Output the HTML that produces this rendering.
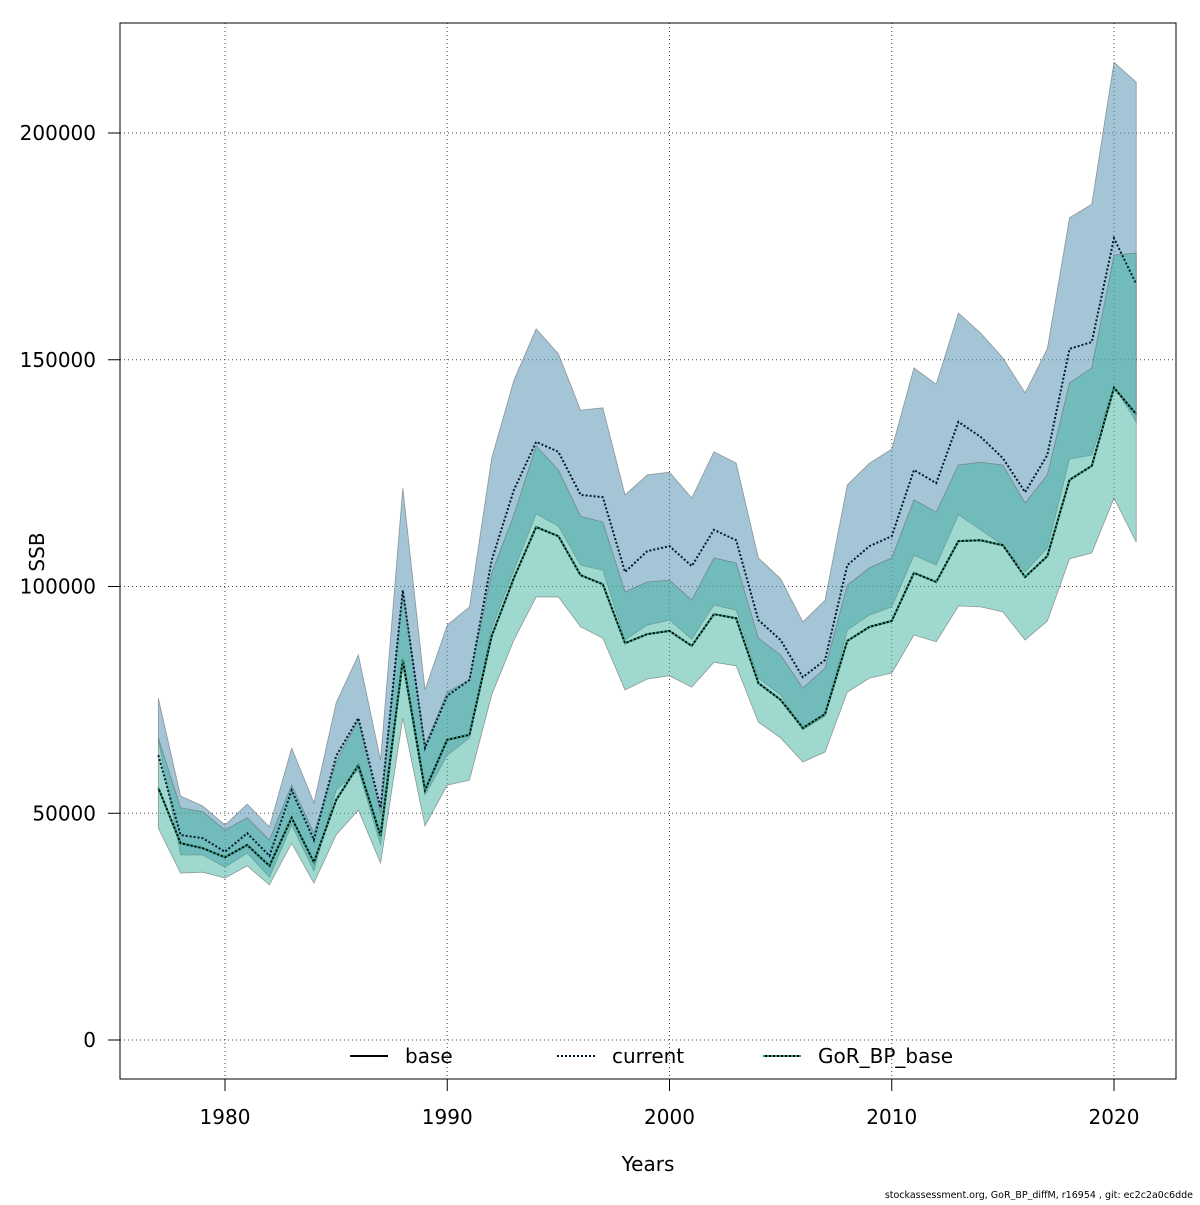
<!DOCTYPE html>
<html><head><meta charset="utf-8"><style>
body{margin:0;background:#fff;}
svg text{font-family:"DejaVu Sans","Liberation Sans",sans-serif;}
</style></head><body>
<svg id="chart" width="1200" height="1200" xmlns="http://www.w3.org/2000/svg">
<rect width="1200" height="1200" fill="#fff"/>
<g id="grid"></g>
<g id="bands"></g>
<g id="lines"></g>
<rect x="120" y="23" width="1056" height="1056" fill="none" stroke="#000" stroke-width="1"/>
<g id="axes"></g>
<text x="648" y="1171" font-size="20" text-anchor="middle">Years</text>
<text x="44" y="552" font-size="20" text-anchor="middle" transform="rotate(-90 44 552)">SSB</text>
<g id="legend"></g>
<text x="1193" y="1198" font-size="9.5" text-anchor="end">stockassessment.org, GoR_BP_diffM, r16954 , git: ec2c2a0c6dde</text>
</svg>
<script>
const years=[];for(let y=1977;y<=2021;y++)years.push(y);
const baseVals=[55.6,43.4,42.3,40.3,43.0,38.4,49.0,39.2,52.9,60.6,45.0,83.8,55.1,66.2,67.3,89.1,101.9,113.1,111.1,102.5,100.5,87.5,89.5,90.2,86.9,93.9,93.0,78.7,75.0,68.8,71.9,88.0,91.1,92.4,103.0,101.0,110.0,110.2,109.1,102.1,106.7,123.5,126.6,143.8,138.0];
const baseUpper=[66.6,51.2,50.3,46.3,49.0,44.1,56.2,45.6,61.3,70.6,50.1,99.2,65.0,76.7,79.4,103.0,115.8,131.0,125.7,115.5,114.2,98.8,101.0,101.4,97.0,106.3,105.2,88.6,84.9,77.6,82.0,100.3,104.1,106.3,119.1,116.4,126.8,127.4,126.8,118.4,124.6,144.9,148.2,173.1,173.5];
const baseLower=[46.7,36.8,37.0,35.7,38.4,34.2,43.4,34.6,45.2,50.7,39.0,71.0,47.2,56.2,57.3,76.1,88.2,97.7,97.7,91.1,88.6,77.2,79.6,80.3,77.8,83.3,82.5,70.1,66.6,61.3,63.5,76.7,79.8,80.9,89.3,87.8,95.7,95.5,94.4,88.2,92.4,106.1,107.4,119.5,109.8];
const currentVals=[62.8,45.2,44.5,41.5,45.6,40.6,55.1,44.1,62.6,71.0,51.2,99.2,64.4,75.9,79.4,105.8,121.3,131.9,129.7,120.2,119.7,103.2,107.8,108.9,104.5,112.5,110.2,92.6,88.2,80.0,83.8,104.7,108.9,111.1,125.7,122.8,136.3,133.0,128.3,120.8,129.0,152.4,153.9,176.8,166.7];
const currentUpper=[75.4,53.8,51.6,47.4,52.0,47.0,64.4,52.3,74.3,84.9,61.7,121.7,77.2,91.5,95.5,128.3,145.5,156.8,151.3,138.9,139.4,120.2,124.6,125.2,119.5,129.7,127.2,106.3,101.7,92.2,97.0,122.4,127.2,130.3,148.2,144.6,160.3,155.9,150.4,142.7,152.4,181.3,184.3,215.6,211.2];
const currentLower=[66.2,40.8,40.8,38.1,41.2,35.9,47.4,37.3,55.1,59.5,43.0,82.7,54.0,62.8,66.6,90.8,103.6,116.0,113.3,104.7,103.6,88.2,91.5,92.6,88.4,95.9,94.8,79.8,76.1,68.4,71.4,90.4,93.7,95.5,106.9,104.7,115.8,112.5,109.1,103.2,108.5,128.1,129.0,144.2,136.3];
const gorVals=[55.6,43.4,42.3,40.3,43.0,38.4,49.0,39.2,52.9,60.6,45.0,83.8,55.1,66.2,67.3,89.1,101.9,113.1,111.1,102.5,100.5,87.5,89.5,90.2,86.9,93.9,93.0,78.7,75.0,68.8,71.9,88.0,91.1,92.4,103.0,101.0,110.0,110.2,109.1,102.1,106.7,123.5,126.6,143.8,138.0];
const xTicks=[1980,1990,2000,2010,2020];
const yTicks=[0,50000,100000,150000,200000];
const legendLabels=["base","current","GoR_BP_base"];

const NS="http://www.w3.org/2000/svg";
const X=y=>225+(y-1980)*22.225;
const Y=v=>1040-v/200000*907;
function mk(tag,attrs,parent){const e=document.createElementNS(NS,tag);for(const k in attrs)e.setAttribute(k,attrs[k]);document.getElementById(parent).appendChild(e);return e;}
xTicks.forEach(t=>{
  const g=mk('line',{x1:X(t),x2:X(t),y1:23,y2:1079,stroke:'#444','stroke-dasharray':'1,3','stroke-width':1},'grid');
  
  
  const tk=mk('line',{x1:X(t),x2:X(t),y1:1079,y2:1091,stroke:'#000'},'axes');
  
  
  const tx=mk('text',{x:X(t),y:1124,'font-size':20,'text-anchor':'middle'},'axes');tx.textContent=t;
  
  
});
yTicks.forEach(t=>{
  const g=mk('line',{x1:120,x2:1176,y1:Y(t),y2:Y(t),stroke:'#444','stroke-dasharray':'1,3','stroke-width':1},'grid');
  
  
  const tk=mk('line',{x1:108,x2:120,y1:Y(t),y2:Y(t),stroke:'#000'},'axes');
  
  
  const tx=mk('text',{x:96,y:Y(t)+7,'font-size':20,'text-anchor':'end'},'axes');tx.textContent=t;
  
  
});
function band(up,lo,fill,name){
  let d='';years.forEach((y,i)=>{d+=(i?'L':'M')+X(y)+','+Y(up[i]*1000);});
  for(let i=years.length-1;i>=0;i--)d+='L'+X(years[i])+','+Y(lo[i]*1000);
  const p=mk('path',{d:d+'Z',fill:fill,stroke:'rgba(100,100,100,0.6)','stroke-width':0.8},'bands');
  
  
}
band(currentUpper,currentLower,'rgba(90,150,180,0.55)','current-ci-band');
band(baseUpper,baseLower,'rgba(64,178,160,0.5)','base-ci-band');
function line(vals,stroke,dash,w,name){
  const pts=years.map((y,i)=>X(y)+','+Y(vals[i]*1000)).join(' ');
  const p=mk('polyline',{points:pts,fill:'none',stroke:stroke,'stroke-width':w,'stroke-dasharray':dash},'lines');
  
  
}
line(baseVals,'#000','none',2,'base-line');
line(currentVals,'#001a33','2,2',2,'current-line');
line(gorVals,'#2a9d7f','2,2',2,'gor-bp-base-line');
const lx=[350,557,763],styles=[['#000','none'],['#001a33','2,2'],['#2a9d7f','2,2']];
legendLabels.forEach((l,i)=>{
  if(i===2){
    const bl=mk('line',{x1:lx[i],x2:lx[i]+38,y1:1056,y2:1056,stroke:'#000','stroke-width':2},'legend');
    
    
  }
  const ln=mk('line',{x1:lx[i],x2:lx[i]+38,y1:1056,y2:1056,stroke:styles[i][0],'stroke-width':2,'stroke-dasharray':styles[i][1]},'legend');
  
  
  const t=mk('text',{x:lx[i]+55,y:1063,'font-size':20},'legend');t.textContent=l;
  
  
});
</script>
</body></html>
